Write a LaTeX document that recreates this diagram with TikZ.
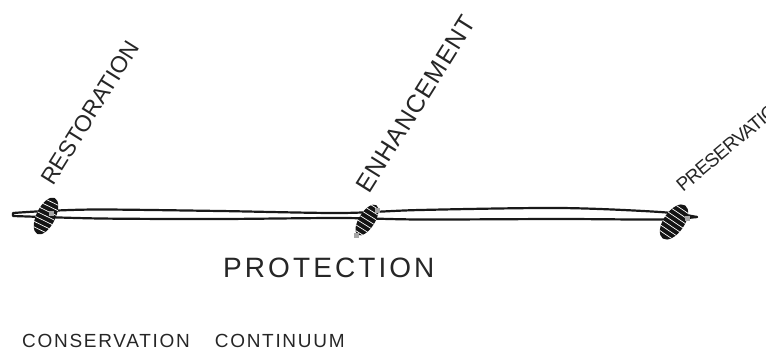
\documentclass[tikz,border=0pt]{standalone}
\usepackage{fontspec}
\setmainfont{Liberation Sans}
\usetikzlibrary{shapes.geometric}

\tikzset{
  bead/.style={ellipse, fill=black!92, inner sep=0pt,
    path picture={\foreach \u in {-15,-10,...,15}
      \draw[white, line width=0.7pt] (\u,-14) -- (\u,14);}},
  spot/.style={fill=black!35, inner sep=0pt, minimum size=5pt},
  cord/.style={line width=2.2pt, black!90, line cap=round},
  lbl/.style={inner sep=0pt, text=black!85, anchor=base west}
}

\begin{document}
\begin{tikzpicture}[x=1pt,y=-1pt]
\useasboundingbox (0,0) rectangle (766,353);
\clip (0,0) rectangle (766,353);

\coordinate (cL) at (13,214.5);

\coordinate (cR) at (697,217);

\draw[cord] (cL) -- (13,213) plot[smooth] coordinates {(13,213) (46,211) (100,209.5) (220,211) (340,213) (420,210) (560,208) (660,212) (697,217)};

\draw[cord] (cL) -- (13,216) plot[smooth] coordinates {(13,216) (100,218.5) (220,219) (340,218) (420,219.5) (560,219) (660,219.5) (697,217)};

\node[bead, minimum width=40pt, minimum height=19pt, rotate=64] (R) at (46,216) {};

\node[bead, minimum width=35pt, minimum height=16pt, rotate=58] (E) at (367,220) {};

\node[bead, minimum width=40pt, minimum height=21pt, rotate=56] (P) at (674,222) {};

\node[spot] (sR) at (51,213) {};

\node[spot] (sE1) at (377,210) {};

\node[spot] (sE2) at (356,235) {};

\node[spot] (sP) at (687,218) {};

\node[lbl, font=\fontsize{23}{26}\selectfont, rotate=58] (restoration) at (53,187) {RESTORATION};

\node[lbl, font=\fontsize{25}{30}\selectfont\addfontfeature{LetterSpace=4}, rotate=58] (enhancement) at (369,195) {ENHANCEMENT};

\node[lbl, font=\fontsize{19}{22}\selectfont\addfontfeature{LetterSpace=-4}, rotate=40] (preservation) at (683,193) {PRESERVATION};

\node[lbl, font=\fontsize{28}{32}\selectfont\addfontfeature{LetterSpace=11}] (protection) at (223,277) {PROTECTION};

\node[lbl, font=\fontsize{19}{22}\selectfont\addfontfeature{LetterSpace=9}] (continuum) at (22,347) {CONSERVATION \hspace{18pt}CONTINUUM};
\end{tikzpicture}
\end{document}
